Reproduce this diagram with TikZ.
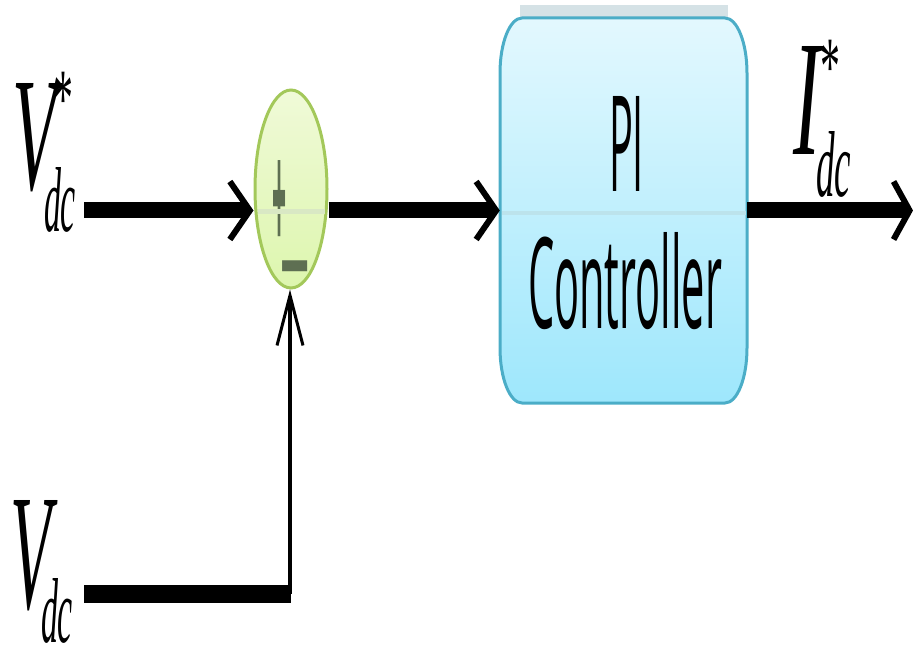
\documentclass[tikz,border=0pt]{standalone}
\usepackage{fontspec}
\setmainfont{Liberation Serif}
\newfontfamily\uisans{Open Sans}
\newfontfamily\signfont{Liberation Sans}
\usetikzlibrary{shapes.geometric,arrows.meta,calc}
\definecolor{boxborder}{HTML}{4BADC7}
\definecolor{boxtop}{HTML}{E3F8FE}
\definecolor{boxbottom}{HTML}{9EE7FC}
\definecolor{boxmid}{HTML}{BCE3EC}
\definecolor{topband}{HTML}{D5E2E6}
\definecolor{sumborder}{HTML}{A3C85A}
\definecolor{sumtop}{HTML}{F0FAD8}
\definecolor{sumbottom}{HTML}{DDF6AE}
\definecolor{summid}{HTML}{D9E8C4}
\definecolor{signcol}{HTML}{5E6F52}
\newcommand{\fitbox}[3]{\resizebox{#1pt}{#2pt}{#3}}
\begin{document}
\begin{tikzpicture}[x=1pt,y=-1pt,
  lbl/.style={inner sep=0pt, outer sep=0pt},
  wire/.style={line width=16pt},
  bigtip/.style={-{Straight Barb[length=20pt,width=58pt,line width=6pt]}},
  endtip/.style={-{Straight Barb[length=16pt,width=58pt,line width=6pt]}},
  uptip/.style={-{Straight Barb[length=50pt,width=26pt,line width=3pt]}}]
\useasboundingbox (0,0) rectangle (913,652);

% PI controller block
\fill[topband] (520,5) rectangle (728,19);
\path[draw=boxborder, line width=3pt, top color=boxtop, bottom color=boxbottom]
  (522,18) -- (725,18)
  arc[start angle=-90, end angle=0, x radius=22, y radius=55] -- (747,348)
  arc[start angle=0, end angle=90, x radius=22, y radius=55] -- (522,403)
  arc[start angle=90, end angle=180, x radius=22, y radius=55] -- (500,73)
  arc[start angle=180, end angle=270, x radius=22, y radius=55] -- cycle;
\draw[boxmid, line width=4pt] (501.5,213) -- (745.5,213);
\node[minimum width=247pt, minimum height=385pt, inner sep=0pt] (pi) at (623.5,210.5) {};
\node[lbl, anchor=base west, font=\uisans] (pitxt) at (609,192) {\fitbox{35}{95}{PI}};
\node[lbl, anchor=base west, font=\uisans] (ctrl) at (528,328) {\fitbox{194}{96}{Controller}};

% summing junction
\node[ellipse, draw=sumborder, line width=3pt, top color=sumtop, bottom color=sumbottom,
      minimum width=72pt, minimum height=198pt, inner sep=0pt] (sum) at (291,189) {};
\node[lbl, text=signcol] (plus) at (280,205)
  {\scalebox{0.16}[1]{\fontsize{150}{150}\selectfont\signfont\bfseries +}};
\draw[summid, line width=5pt, shorten <=4pt, shorten >=4pt]
  ([yshift=-23pt]sum.west) -- ([yshift=-23pt]sum.east);
\node[lbl, text=signcol, anchor=base] (minus) at (295,300)
  {\scalebox{0.5}[1]{\fontsize{100}{100}\selectfont\signfont\bfseries −}};

% labels
\node[lbl, anchor=base west] (vsv) at (12,190) {\fitbox{44}{106}{\itshape V}};
\node[lbl, anchor=north] (vsstar) at (63,72) {\scalebox{0.48}[1]{\fontsize{83}{83}\selectfont *}};
\node[lbl, anchor=base west] (vsdc) at (44,232) {\fitbox{32}{64}{\itshape dc}};

\node[lbl, anchor=base west] (vv) at (10,608) {\fitbox{41}{108}{\itshape V}};
\node[lbl, anchor=base west] (vdc) at (41,642) {\fitbox{32}{64}{\itshape dc}};

\node[lbl, anchor=base west] (ii) at (793,155) {\fitbox{27}{108}{\itshape I}};
\node[lbl, anchor=north] (istar) at (830,40) {\scalebox{0.48}[1]{\fontsize{83}{83}\selectfont *}};
\node[lbl, anchor=base west] (idc) at (816,197) {\fitbox{35}{65}{\itshape dc}};

% connectors
\coordinate (a1) at (84,210.5);
\coordinate (out) at (913,210.5);
\coordinate (a4) at (84,594);
\coordinate (k) at (290,594);
\draw[wire, bigtip] (a1) -- (a1 -| sum.west);
\draw[wire, bigtip] (sum.east |- pi.west) -- (pi.west);
\draw[wire, endtip] (pi.east) -- (out);
\draw[line width=18pt] (a4) -- ([xshift=1pt]k);
\draw[line width=4pt, uptip] (k) -- (k |- sum.south);
\end{tikzpicture}
\end{document}
